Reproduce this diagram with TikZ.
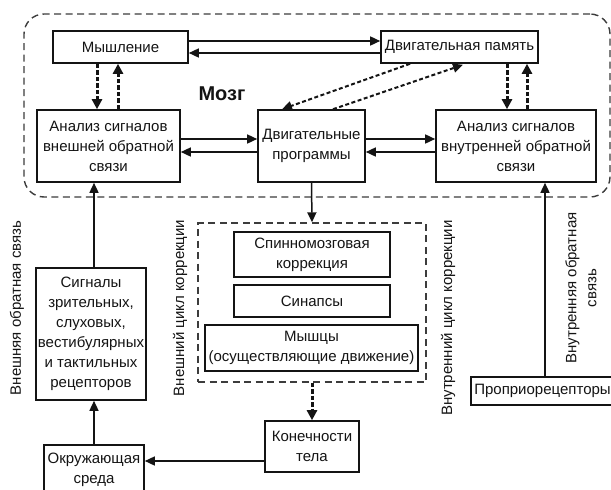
\documentclass[tikz,border=0pt]{standalone}
\usepackage{fontspec}
\setmainfont{Liberation Sans}
\usetikzlibrary{arrows.meta, positioning, calc}
\definecolor{ink}{RGB}{20, 20, 20}
\definecolor{inkfaint}{RGB}{60, 60, 60}

\begin{document}
\begin{tikzpicture}[x=1pt, y=-1pt,
    every node/.style={font=\fontsize{15}{20}\selectfont, text=ink},
    blk/.style={draw=ink, line width=1.6pt, fill=white, align=center, inner sep=2pt},
    area/.style={draw=inkfaint, line width=1.4pt, dash pattern=on 7pt off 4.5pt},
    flow/.style={draw=ink, line width=1.5pt, -{Triangle[length=10pt, width=9pt]}},
    link/.style={draw=ink, line width=3pt, dash pattern=on 4.5pt off 2pt, -{Triangle[length=10pt, width=10pt]}},
    hint/.style={draw=ink, line width=2pt, dash pattern=on 4pt off 2.5pt, -{Triangle[length=10pt, width=9pt]}},
    side/.style={rotate=90, align=center},
  ]
  \useasboundingbox (0,0) rectangle (611,490);
  \clip (0,0) rectangle (611,490);

  \node[area, rounded corners=20pt, minimum width=586pt, minimum height=183pt] (brain) at (317,105.5) {};
  \node[font=\bfseries\fontsize{20}{24}\selectfont] (brainlbl) at (222,94) {Мозг};

  \node[blk, minimum width=135pt, minimum height=32pt] (think) at (120.5,47) {Мышление};
  \node[blk, minimum width=157pt, minimum height=32pt] (mem) at (459.5,47) {Двигательная память};
  \node[blk, minimum width=143pt, minimum height=72pt] (extan) at (108.5,146) {Анализ сигналов\\внешней обратной\\связи};
  \node[blk, minimum width=107pt, minimum height=72pt] (prog) at (311.5,146) {Двигательные\\программы};
  \node[blk, minimum width=160pt, minimum height=72pt] (intan) at (516,146) {Анализ сигналов\\внутренней обратной\\связи};

  \node[area, minimum width=228pt, minimum height=159pt] (core) at (312,302.5) {};
  \node[blk, minimum width=156pt, minimum height=45pt] (spinal) at (312,254.5) {Спинномозговая\\коррекция};
  \node[blk, minimum width=156pt, minimum height=32pt] (syn) at (312,301) {Синапсы};
  \node[blk, minimum width=213pt, minimum height=46pt] (musc) at (311.5,348) {Мышцы\\(осуществляющие движение)};

  \node[blk, minimum width=94pt, minimum height=51pt] (limbs) at (312,446.5) {Конечности\\тела};
  \node[blk, minimum width=100pt, minimum height=50pt] (env) at (94,470) {Окружающая\\среда};
  \node[blk, minimum width=108pt, minimum height=132pt] (sig) at (91,334) {Сигналы\\зрительных,\\слуховых,\\вестибулярных\\и тактильных\\рецепторов};
  \node[blk, minimum width=143pt, minimum height=28pt] (prop) at (542.5,391) {Проприорецепторы};

  \node[side] (extfb) at (17,308) {Внешняя обратная связь};
  \node[side] (extloop) at (180,308) {Внешний цикл коррекции};
  \node[side] (intloop) at (448,318) {Внутренний цикл коррекции};
  \node[side] (intfb) at (581,288) {Внутренняя обратная\\связь};

  \draw[flow] ([yshift=6pt]think.east) -- ([yshift=6pt]mem.west);
  \draw[flow] ([yshift=-6pt]mem.west) -- ([yshift=-6pt]think.east);
  \draw[flow] ([yshift=7pt]extan.east) -- ([yshift=7pt]prog.west);
  \draw[flow] ([yshift=-6pt]prog.west) -- ([yshift=-6pt]extan.east);
  \draw[flow] ([yshift=7pt]prog.east) -- ([yshift=7pt]intan.west);
  \draw[flow] ([yshift=-6pt]intan.west) -- ([yshift=-6pt]prog.east);

  \draw[link] (think.south -| 97,0) -- (extan.north -| 97,0);
  \draw[link] (extan.north -| 118,0) -- (think.south -| 118,0);
  \draw[link] (mem.south -| 507,0) -- (intan.north -| 507,0);
  \draw[link] (intan.north -| 527,0) -- (mem.south -| 527,0);
  \draw[hint] (mem.south -| 410,0) -- (prog.north -| 282,0);
  \draw[hint] (prog.north -| 333,0) -- ($(mem.south -| 463,0)+(0,1)$);

  \draw[flow] (prog.south) -- (core.north);
  \draw[link] (core.south) -- (limbs.north);
  \draw[flow] (limbs.west |- 0,461) -- (env.east |- 0,461);
  \draw[flow] (env.north -| 94,0) -- (sig.south -| 94,0);
  \draw[flow] (sig.north -| 94,0) -- (extan.south -| 94,0);
  \draw[flow] (prop.north -| 545,0) -- (intan.south -| 545,0);
\end{tikzpicture}
\end{document}
